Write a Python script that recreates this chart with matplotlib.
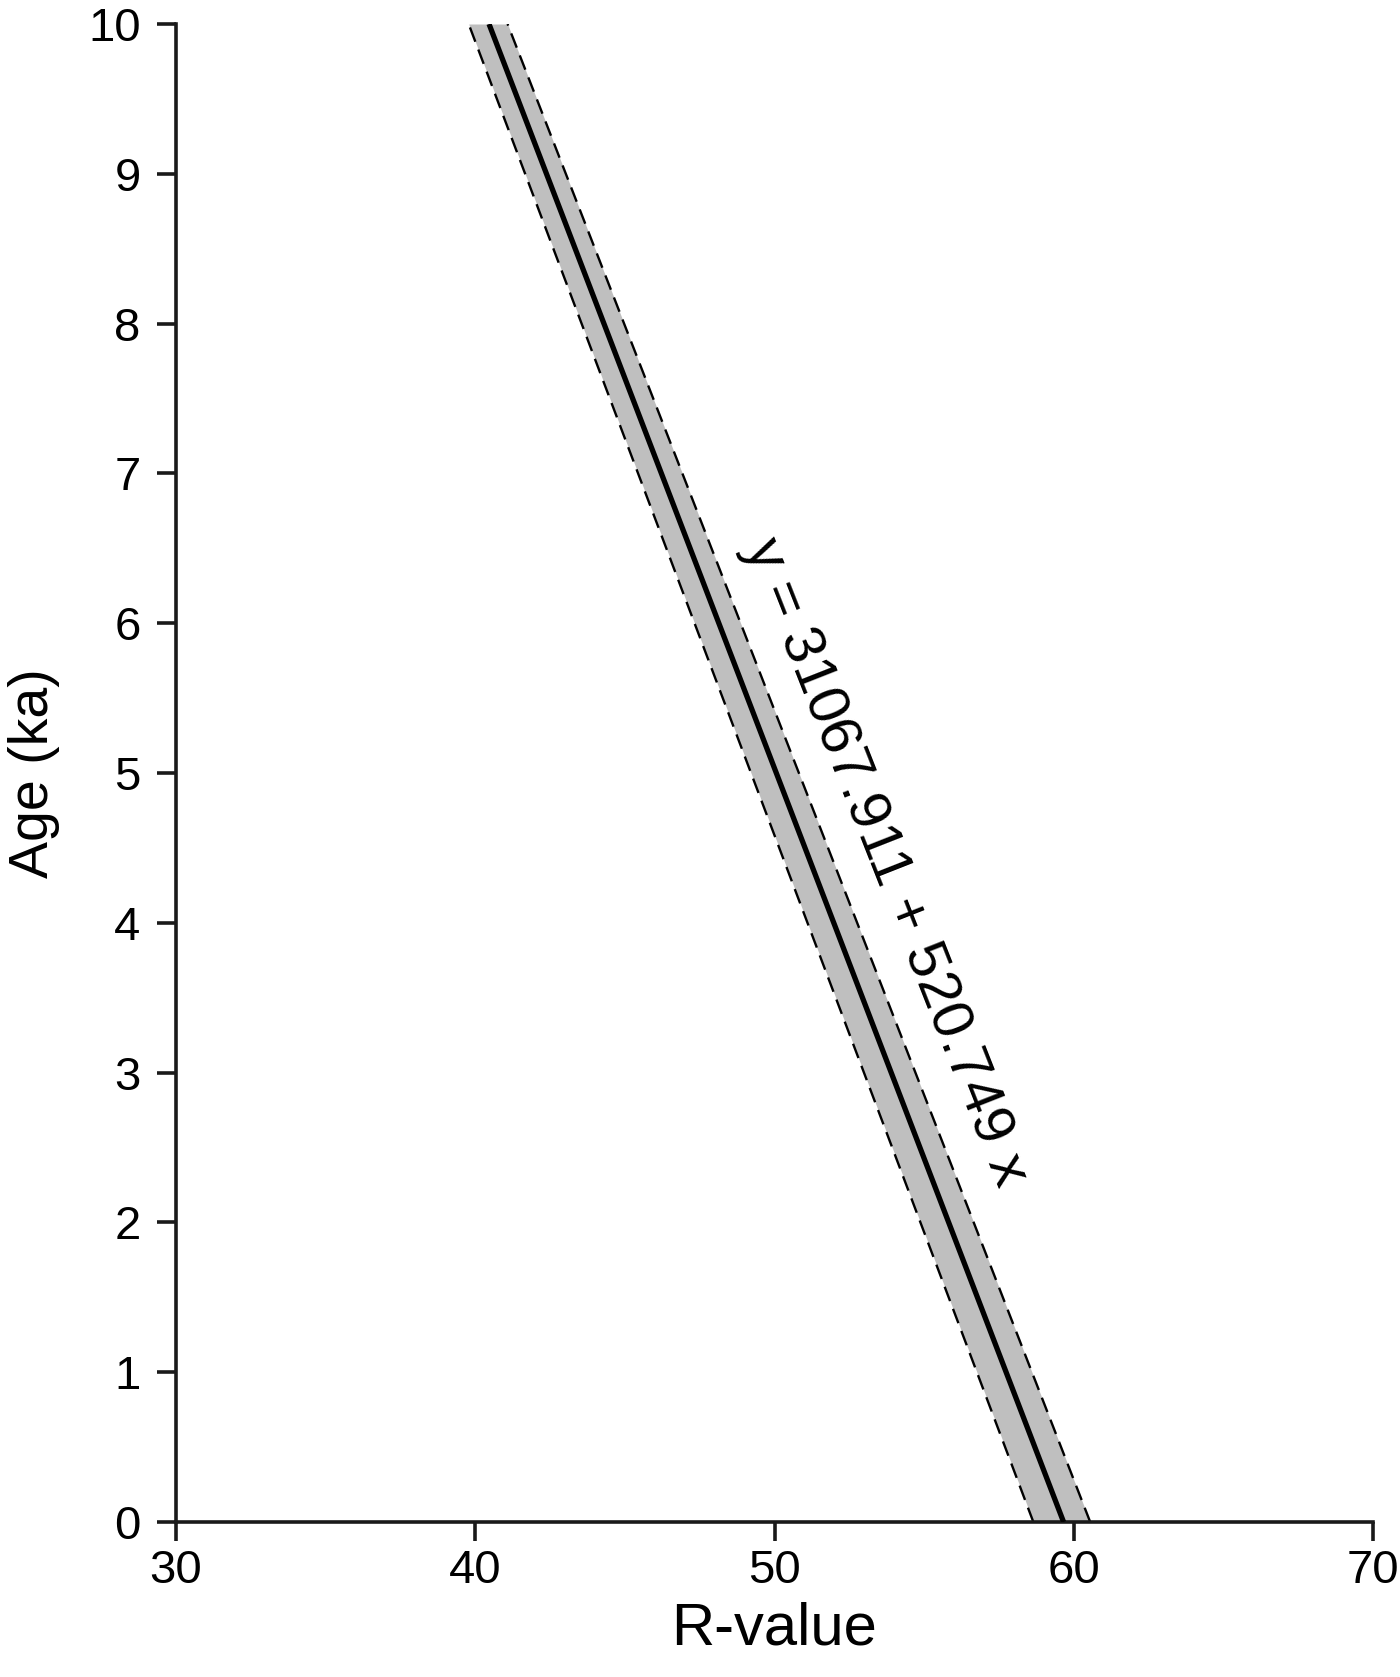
import matplotlib
matplotlib.use("Agg")
import matplotlib.pyplot as plt

plt.rcParams['font.family'] = ['Liberation Sans', 'DejaVu Sans']
plt.rcParams['lines.scale_dashes'] = False

# Data
age_ka = [0, 10]
r_fit = [59.66, 40.46]
r_lower = [58.65, 39.78]
r_upper = [60.55, 41.08]
x_ticks = [30, 40, 50, 60, 70]
y_ticks = [0, 1, 2, 3, 4, 5, 6, 7, 8, 9, 10]
equation = "y = 31067.911 + 520.749 x"

fig = plt.figure(figsize=(14, 16.77), dpi=100)
ax = fig.add_axes([176/1400, 1 - 1522/1677, (1373-176)/1400, (1522-24)/1677])

ax.fill_betweenx(age_ka, r_lower, r_upper, color='#bfbfbf', lw=0, zorder=1)
ax.plot(r_lower, age_ka, color='black', lw=1.7, linestyle=(0, (11, 6)), zorder=2)
ax.plot(r_upper, age_ka, color='black', lw=1.7, linestyle=(0, (11, 6)), zorder=2)
ax.plot(r_fit, age_ka, color='black', lw=3.8, zorder=3, solid_capstyle='butt')

ax.set_xlim(30, 70)
ax.set_ylim(0, 10)
ax.set_xticks(x_ticks)
ax.set_yticks(y_ticks)

for s in ['top', 'right']:
    ax.spines[s].set_visible(False)
for s in ['left', 'bottom']:
    ax.spines[s].set_linewidth(2.6)
    ax.spines[s].set_color('#1a1a1a')

ax.tick_params(axis='both', direction='out', length=13.5, width=2.6,
               color='#1a1a1a', labelsize=34)
ax.tick_params(axis='x', pad=6)
ax.tick_params(axis='y', pad=12)

ax.set_xlabel('R-value', fontsize=43, labelpad=6)
ax.set_ylabel('Age (ka)', fontsize=40, labelpad=20)

ax.text(53.7, 4.4, equation, rotation=-68.5, rotation_mode='anchor',
        ha='center', va='center', fontsize=42)

fig.savefig('out.png', dpi=100)
